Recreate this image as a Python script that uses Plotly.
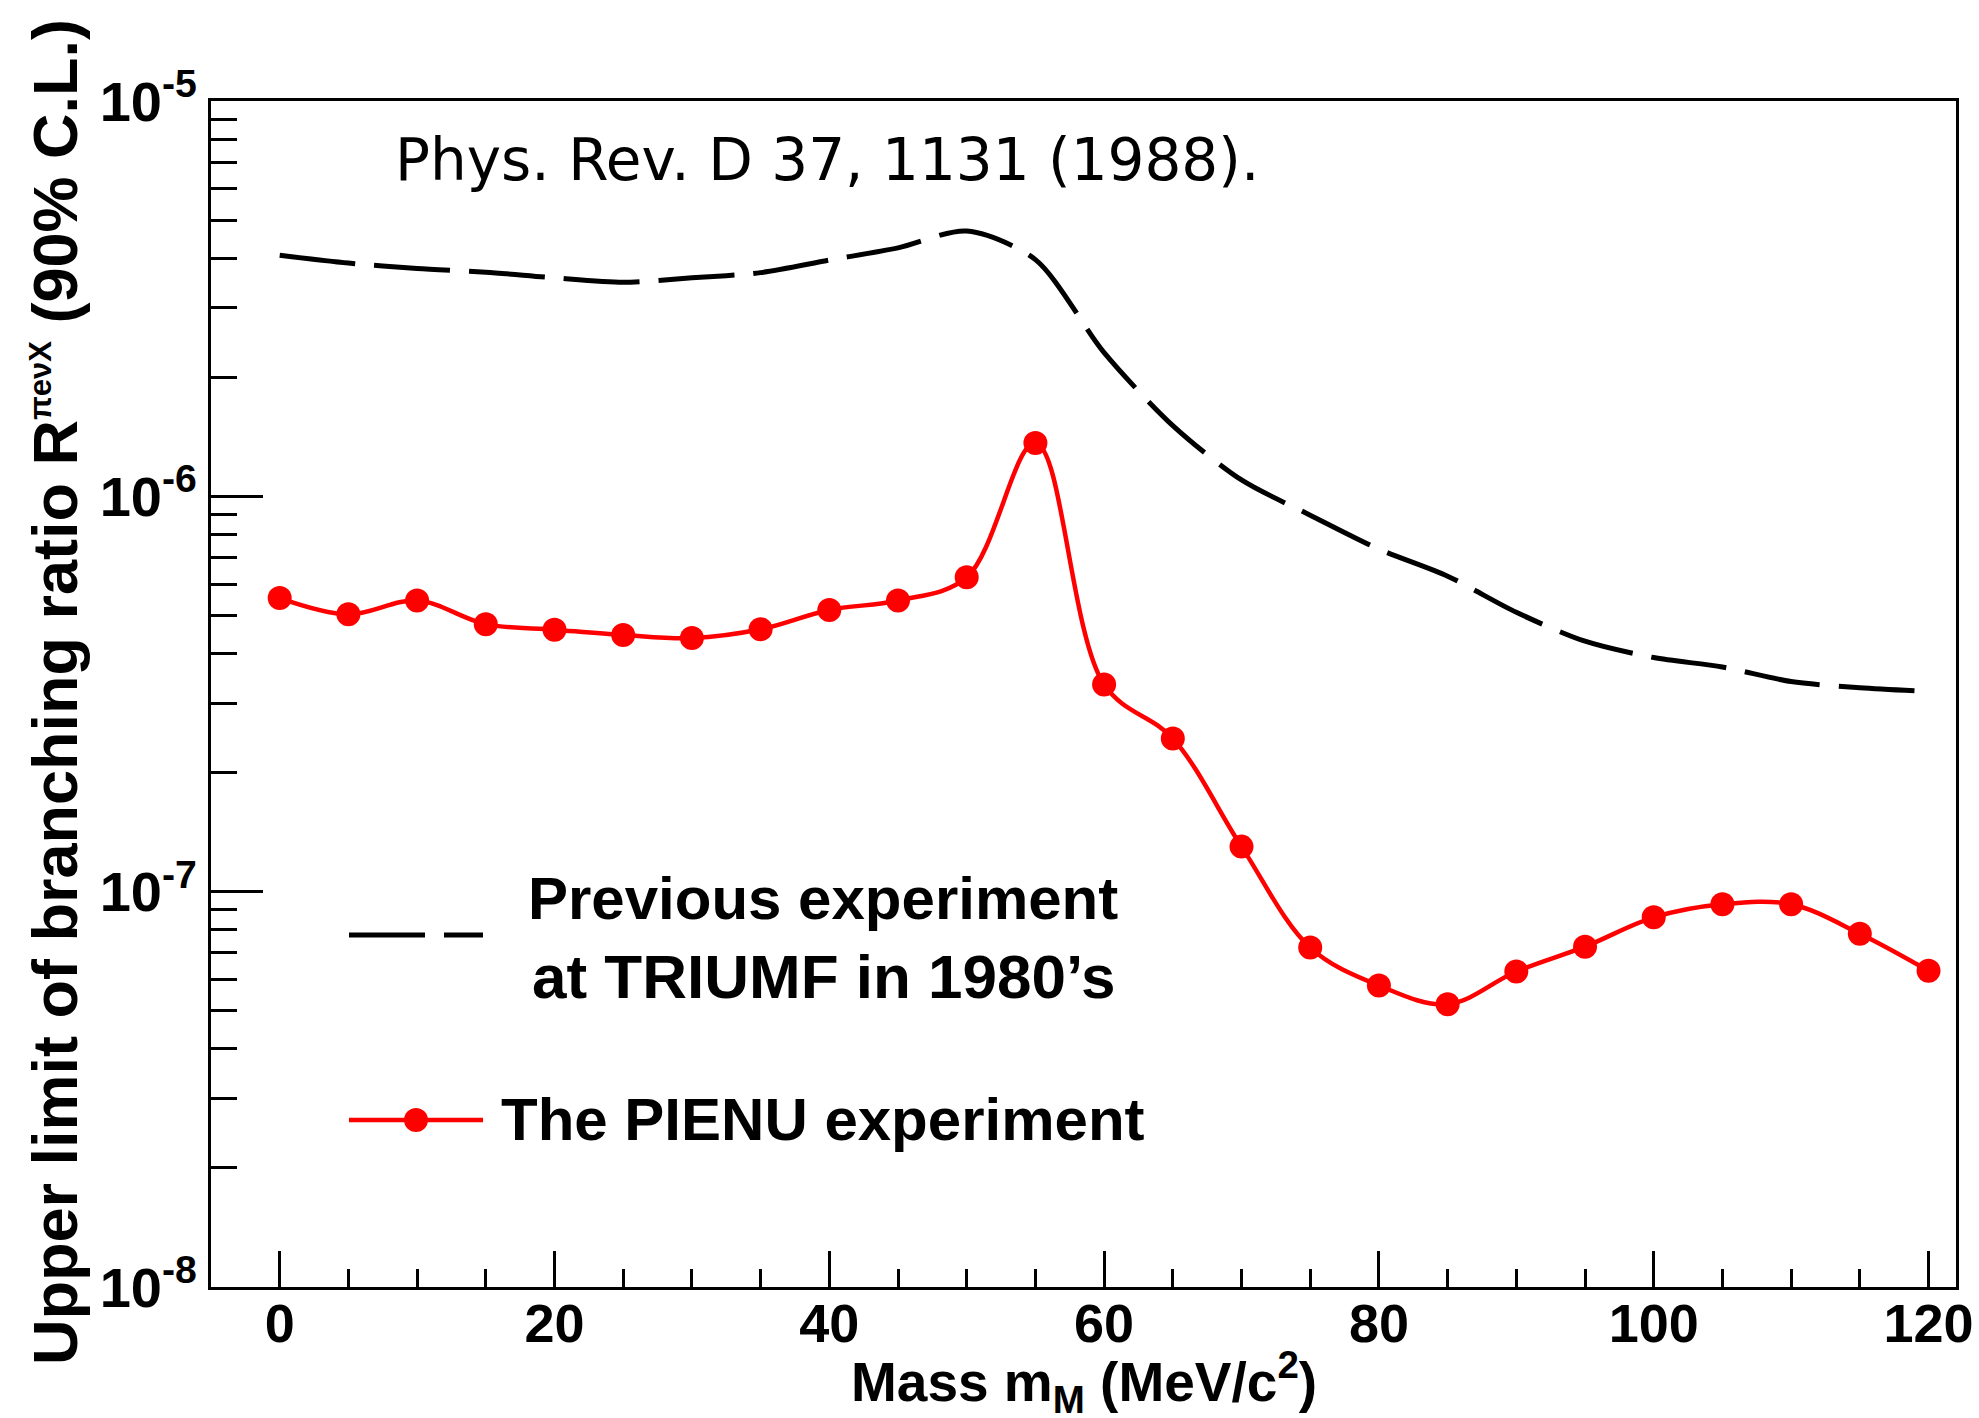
import plotly.graph_objects as go

# PIENU upper limits (90% C.L.) vs. massive-particle mass
mass = [0, 5, 10, 15, 20, 25, 30, 35, 40, 45, 50, 55, 60,
        65, 70, 75, 80, 85, 90, 95, 100, 105, 110, 115, 120]
pienu_limit = [5.53e-7, 5.03e-7, 5.45e-7, 4.75e-7, 4.60e-7, 4.46e-7, 4.38e-7,
               4.61e-7, 5.16e-7, 5.45e-7, 6.24e-7, 1.364e-6, 3.34e-7,
               2.44e-7, 1.30e-7, 7.22e-8, 5.79e-8, 5.19e-8, 6.28e-8, 7.26e-8,
               8.61e-8, 9.29e-8, 9.29e-8, 7.83e-8, 6.31e-8]

# Previous TRIUMF result, Phys. Rev. D 37, 1131 (1988)
prev_mass = [0, 5, 10, 15, 20, 25, 30, 35, 40, 45, 50, 55, 60,
             65, 70, 75, 80, 85, 90, 95, 100, 105, 110, 115, 120]
prev_limit = [4.07e-6, 3.89e-6, 3.77e-6, 3.69e-6, 3.57e-6, 3.48e-6, 3.57e-6,
              3.68e-6, 3.96e-6, 4.25e-6, 4.69e-6, 3.97e-6, 2.31e-6,
              1.51e-6, 1.10e-6, 8.96e-7, 7.35e-7, 6.28e-7, 5.09e-7, 4.30e-7,
              3.91e-7, 3.70e-7, 3.40e-7, 3.28e-7, 3.21e-7]

x_ticks = [0, 20, 40, 60, 80, 100, 120]
y_ticks = [1e-8, 1e-7, 1e-6, 1e-5]
y_tick_text = ["10<sup>-8</sup>", "10<sup>-7</sup>", "10<sup>-6</sup>", "10<sup>-5</sup>"]
y_minor = [m * d for d in (1e-8, 1e-7, 1e-6) for m in range(2, 10)]

W, H = 1979, 1418
L, R, T, B = 211, 23, 101, 131
PW, PH = W - L - R, H - T - B


def px(xp):
    return (xp - L) / PW


def py(yp):
    return (H - B - yp) / PH


FONT = "Liberation Sans, Arial, Helvetica, sans-serif"
DASH = "76px,19px"
RED = "#ff0000"

fig = go.Figure()

fig.add_trace(go.Scatter(
    x=prev_mass, y=prev_limit, mode="lines",
    line=dict(color="black", width=5, dash=DASH, shape="spline", smoothing=0.8),
    showlegend=False, hoverinfo="skip",
))

fig.add_trace(go.Scatter(
    x=mass, y=pienu_limit, mode="lines+markers",
    line=dict(color=RED, width=4.5, shape="spline", smoothing=1.0),
    marker=dict(size=24, color=RED, line=dict(width=0)),
    showlegend=False, hoverinfo="skip",
))

axis_common = dict(
    showgrid=False, zeroline=False, showline=True, linewidth=3,
    linecolor="black", mirror=True, ticks="inside", tickwidth=3,
    tickcolor="black",
)

fig.update_xaxes(
    range=[-5, 122], tickmode="array", tickvals=x_ticks, ticklen=36,
    ticklabelstandoff=-13,
    tickfont=dict(family=FONT, size=54, color="black", weight="bold"),
    minor=dict(dtick=5, tick0=0, ticks="inside", ticklen=18, tickwidth=3,
               tickcolor="black", showgrid=False),
    **axis_common,
)

fig.update_yaxes(
    type="log", range=[-8, -5], tickmode="array", tickvals=y_ticks,
    ticktext=y_tick_text, ticklen=52,
    tickfont=dict(family=FONT, size=56, color="black", weight="bold"),
    minor=dict(tickmode="array", tickvals=y_minor, ticks="inside", ticklen=26,
               tickwidth=3, tickcolor="black", showgrid=False),
    **axis_common,
)

annotations = [
    # axis titles
    dict(text="Mass m<sub>M</sub> (MeV/c<sup>2</sup>)", x=px(1084), y=py(1382),
         xanchor="center", yanchor="middle",
         font=dict(family=FONT, size=55, color="black", weight="bold")),
    dict(text='Upper limit of branching ratio R<sup><span style="font-size:31px">πeνX</span></sup> (90% C.L.)',
         x=px(55), y=py(692), xanchor="center", yanchor="middle", textangle=-90,
         font=dict(family=FONT, size=63, color="black", weight="bold")),
    # reference
    dict(text="Phys. Rev. D 37, 1131 (1988).", x=px(393), y=py(160),
         xanchor="left", yanchor="middle",
         font=dict(family="DejaVu Sans, sans-serif", size=58, color="black")),
    # legend labels
    dict(text="Previous experiment", x=px(823), y=py(898),
         xanchor="center", yanchor="middle",
         font=dict(family=FONT, size=60, color="black", weight="bold")),
    dict(text="at TRIUMF in 1980’s", x=px(823), y=py(977),
         xanchor="center", yanchor="middle",
         font=dict(family=FONT, size=62, color="black", weight="bold")),
    dict(text="The PIENU experiment", x=px(823), y=py(1119),
         xanchor="center", yanchor="middle",
         font=dict(family=FONT, size=60, color="black", weight="bold")),
]
for a in annotations:
    a.update(xref="paper", yref="paper", showarrow=False)

shapes = [
    dict(type="line", xref="paper", yref="paper", x0=px(349), x1=px(483),
         y0=py(935), y1=py(935), line=dict(color="black", width=5, dash=DASH)),
    dict(type="line", xref="paper", yref="paper", x0=px(349), x1=px(483),
         y0=py(1120), y1=py(1120), line=dict(color=RED, width=4.5)),
    dict(type="circle", xref="paper", yref="paper", x0=px(404), x1=px(428),
         y0=py(1132), y1=py(1108), fillcolor=RED, line=dict(width=0)),
]

fig.update_layout(
    width=W, height=H,
    margin=dict(l=L, r=R, t=T, b=B, autoexpand=False),
    paper_bgcolor="white", plot_bgcolor="white",
    annotations=annotations, shapes=shapes,
    showlegend=False,
)

fig.write_html("out.html")
